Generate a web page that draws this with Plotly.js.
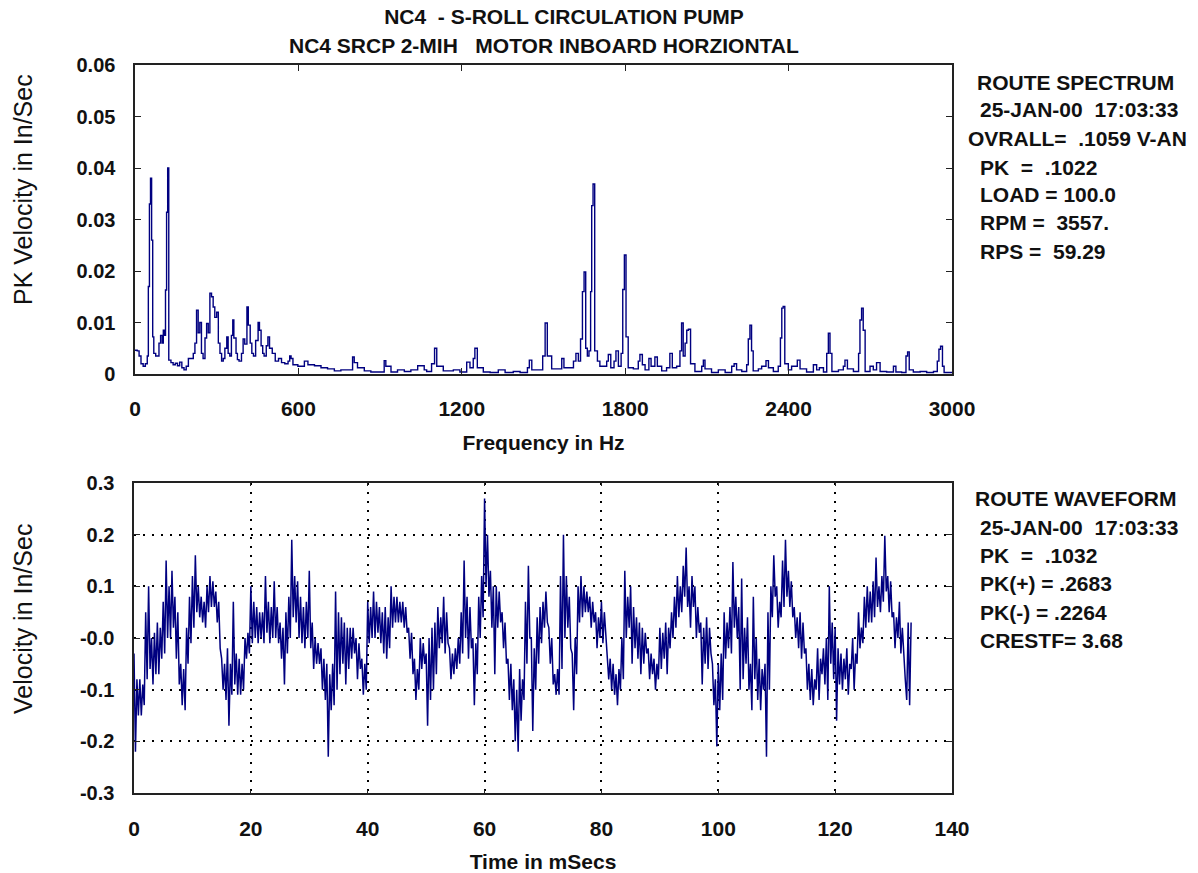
<!DOCTYPE html>
<html>
<head>
<meta charset="utf-8">
<script src="https://cdn.plot.ly/plotly-3.0.1.min.js"></script>
<style>html,body{margin:0;padding:0;background:#fff;}#chart{width:1198px;height:873px;}</style>
</head>
<body>
<div id="chart"></div>
<script>
// ---- Spectrum (top) ----
const freqHz = [0,8,15,22,30,38,45,49,53,57,61,65,69,76,82,88,94,100,104,108,112,116,120,124,132,140,148,156,164,172,180,188,196,
214,220,226,232,238,244,250,257,263,269,275,281,287,293,300,306,312,318,324,330,337,342,348,354,359,363,371,376,382,391,397,403,411,416,423,429,435,443,452,457,463,469,474,482,488,494,504,515,527,538,550,562,568,573,580,598,622,635,659,683,707,732,756,781,799,805,817,842,866,891,915,921,940,964,989,1013,1038,1062,
1071,1089,1100,1108,1132,1169,1193,1218,1230,1242,1248,1257,1279,1304,1334,1359,1389,1414,1441,1448,1457,1481,1497,1506,1514,1530,1548,1567,1575,1597,1610,1619,1628,1636,1643,1649,1655,1661,1667,1673,1677,1682,1688,1698,1707,1717,1732,1738,1747,1759,1766,1775,1785,1791,1797,1803,1811,1830,1848,1854,1863,1873,1887,1895,1909,1918,1934,1952,1964,1973,1989,2001,2007,2013,2020,2026,2032,2040,2056,
2081,2087,2093,2117,2142,2167,2191,2200,2209,2228,2246,2252,2258,2264,2270,2289,2301,2317,2326,2344,2362,2370,2375,2380,2386,2399,2411,2432,2442,2466,2491,2503,2513,2528,2540,2546,2552,2559,2583,2601,2607,2616,2638,2657,2662,2668,2674,2681,2699,2711,2723,2736,2760,2785,2794,2815,2831,2837,2843,2858,2883,2907,2932,2946,2952,2958,2965,2971,3000];
const pkVel = [0.0046,0.0045,0.0035,0.002,0.0015,0.002,0.0035,0.017,0.033,0.038,0.026,0.0072,0.004,0.0035,0.0035,0.006,0.0075,0.006,0.0085,0.0075,0.0163,0.0314,0.040,0.0027,0.0022,0.0018,0.0021,0.0016,0.0023,0.0012,0.0008,0.0015,0.003,
0.004,0.006,0.0124,0.008,0.01,0.004,0.003,0.007,0.0098,0.008,0.0157,0.015,0.013,0.011,0.012,0.006,0.004,0.0025,0.003,0.005,0.0072,0.004,0.0035,0.0075,0.0105,0.007,0.004,0.0028,0.0025,0.004,0.0068,0.0058,0.013,0.0095,0.006,0.004,0.0035,0.0065,0.010,0.0085,0.0055,0.004,0.0035,0.0055,0.0072,0.005,0.004,0.0025,0.003,0.0022,0.002,0.0025,0.0035,0.003,0.0018,0.0015,0.0025,0.0018,0.0016,0.0012,0.001,0.0006,0.0008,0.0008,0.0033,0.0022,0.0012,0.0006,0.0004,0.0004,0.0026,0.0015,0.0004,0.0008,0.0005,0.0008,0.0016,0.0008,
0.0005,0.002,0.005,0.0015,0.0006,0.0008,0.0004,0.0023,0.0012,0.003,0.005,0.0012,0.0004,0.0003,0.0008,0.0003,0.0005,0.0003,0.0012,0.0027,0.0008,0.0008,0.0035,0.0099,0.0035,0.001,0.001,0.003,0.0012,0.0012,0.0025,0.004,0.0025,0.0068,0.016,0.0198,0.005,0.0035,0.0045,0.016,0.0327,0.0369,0.0045,0.0025,0.0015,0.0015,0.0025,0.0038,0.0012,0.0025,0.0045,0.0015,0.004,0.0164,0.0231,0.0072,0.0012,0.001,0.0025,0.0038,0.0018,0.0008,0.003,0.0015,0.0033,0.0015,0.0006,0.0012,0.004,0.0012,0.0015,0.0045,0.0099,0.0035,0.006,0.0085,0.0087,0.002,0.0005,
0.0015,0.0027,0.001,0.0003,0.0008,0.0003,0.0015,0.002,0.0008,0.0005,0.0018,0.0068,0.0095,0.0045,0.0006,0.001,0.0015,0.0026,0.0012,0.0005,0.0015,0.007,0.0128,0.0131,0.002,0.0008,0.0015,0.0027,0.001,0.0004,0.0018,0.0008,0.0012,0.0004,0.004,0.0079,0.004,0.0005,0.0008,0.0015,0.0027,0.001,0.0005,0.004,0.0105,0.0128,0.0085,0.0005,0.0015,0.0008,0.0022,0.0005,0.0004,0.0015,0.0004,0.0003,0.0035,0.0043,0.0008,0.0004,0.0005,0.0003,0.0005,0.0025,0.0048,0.0054,0.0015,0.0003,0.0003];
const freqTicks = [0,600,1200,1800,2400,3000];

// ---- Waveform (bottom), one value every 0.25 ms (upper/lower swing of the trace) ----
const waveStartMs = 0;
const waveStepMs = 0.25;
const waveVel = [
-0.03,-0.22,-0.08,-0.15, -0.08,-0.15,-0.09,-0.13, 0.05,-0.08,0.1,-0.06, 0.0,-0.09,0.01,-0.07, 0.03,-0.07,0.02,-0.04,
0.07,-0.03,0.15,0.0, 0.1,0.0,0.13,0.02, 0.08,-0.04,0.05,-0.09, -0.05,-0.13,-0.06,-0.14, 0.02,-0.05,0.08,-0.01,
0.12,0.02,0.16,0.05, 0.1,0.04,0.08,0.03, 0.07,0.02,0.1,0.05, 0.12,0.06,0.11,0.06, 0.09,0.03,0.07,-0.02,
-0.04,-0.1,-0.05,-0.12, -0.02,-0.17,-0.05,-0.11, 0.07,-0.09,-0.03,-0.11, -0.04,-0.11,-0.05,-0.1, 0.0,-0.04,0.01,-0.03,
0.1,-0.01,0.07,0.0, 0.06,-0.01,0.05,0.0, 0.05,-0.01,0.12,0.01, 0.07,-0.01,0.06,0.0, 0.11,0.0,0.06,-0.01,
0.03,-0.04,0.02,-0.09, 0.05,-0.03,0.08,0.0, 0.19,0.04,0.12,0.03, 0.11,0.0,0.08,-0.01, 0.06,-0.02,0.07,0.0,
0.13,-0.02,0.03,-0.06, 0.0,-0.05,-0.01,-0.05, -0.02,-0.1,-0.04,-0.12, -0.05,-0.23,-0.07,-0.14, -0.05,-0.13,0.09,-0.1,
0.05,-0.07,0.04,-0.05, 0.03,-0.09,0.02,-0.06, 0.02,-0.04,0.02,-0.03, 0.0,-0.08,-0.01,-0.06, -0.04,-0.11,-0.05,-0.1,
0.07,-0.01,0.06,0.0, 0.09,0.0,0.07,0.01, 0.06,-0.01,0.05,-0.03, 0.06,-0.04,0.04,-0.02, 0.1,0.02,0.08,0.03,
0.08,0.03,0.07,0.03, 0.07,0.02,0.06,0.01, 0.02,-0.04,0.01,-0.07, -0.04,-0.12,-0.06,-0.1, 0.0,-0.06,-0.01,-0.05,
-0.03,-0.17,0.0,-0.12, 0.02,-0.1,0.03,-0.07, 0.06,-0.02,0.04,-0.01, 0.08,-0.03,0.05,-0.01, -0.02,-0.08,-0.03,-0.07,
-0.02,-0.06,0.0,-0.05, 0.05,-0.03,0.15,0.0, 0.08,-0.04,0.06,-0.02, 0.0,-0.13,-0.01,-0.07, 0.08,0.0,0.12,0.04,
0.27,0.1,0.2,0.08, 0.13,0.02,0.1,-0.07, 0.1,0.02,0.09,0.03, 0.05,-0.02,0.03,-0.05, -0.04,-0.12,-0.05,-0.14,
-0.08,-0.2,-0.1,-0.22, -0.06,-0.16,-0.08,-0.12, 0.07,-0.05,0.14,0.0, 0.0,-0.18,-0.02,-0.1, 0.04,-0.05,0.06,-0.01,
0.07,0.02,0.09,0.03, 0.02,-0.05,0.0,-0.09, -0.07,-0.11,-0.06,-0.11, 0.12,-0.06,0.2,0.0, 0.12,0.02,0.08,-0.02,
-0.03,-0.14,0.0,-0.07, 0.1,0.03,0.12,0.04, 0.1,0.05,0.09,0.05, 0.08,0.02,0.07,0.03, 0.05,-0.02,0.04,0.0,
0.07,-0.01,0.05,0.0, -0.03,-0.08,-0.04,-0.1, -0.05,-0.11,-0.07,-0.13, -0.06,-0.1,0.0,-0.08, 0.13,0.0,0.08,0.02,
0.1,-0.05,0.06,-0.02, 0.04,-0.04,0.03,-0.07, 0.02,-0.05,0.01,-0.03, -0.02,-0.08,-0.03,-0.07, -0.04,-0.1,-0.05,-0.08,
0.02,-0.06,0.01,-0.04, 0.03,-0.07,0.02,-0.02, 0.05,0.0,0.08,0.02, 0.12,0.04,0.1,0.05, 0.14,0.08,0.175,0.06,
0.1,0.02,0.12,0.06, 0.1,0.0,0.06,0.01, 0.03,-0.09,0.02,-0.05, 0.04,-0.06,0.02,-0.03, -0.05,-0.13,-0.08,-0.21,
-0.05,-0.14,-0.03,-0.12, 0.05,-0.04,0.03,-0.02, 0.06,-0.03,0.147,0.02, 0.08,0.0,0.06,-0.1, 0.115,-0.08,0.02,-0.05,
0.04,-0.1,-0.05,-0.14, 0.08,-0.08,0.0,-0.12, -0.04,-0.14,-0.06,-0.1, -0.05,-0.23,0.05,-0.1, 0.1,0.04,0.16,0.08,
0.1,0.02,0.07,0.04, 0.15,0.06,0.19,0.08, 0.13,0.06,0.11,0.04, 0.06,0.0,0.04,-0.02, 0.05,-0.04,0.03,-0.03,
-0.02,-0.1,-0.05,-0.12, -0.06,-0.13,-0.08,-0.1, -0.02,-0.12,-0.04,-0.07, -0.02,-0.09,0.0,-0.12, 0.1,-0.05,0.03,-0.08,
0.02,-0.16,-0.02,-0.09, -0.03,-0.1,-0.04,-0.08, -0.02,-0.11,-0.05,-0.06, 0.0,-0.1,-0.03,-0.05, 0.05,-0.02,0.02,-0.01,
0.08,0.02,0.1,0.03, 0.09,0.03,0.11,0.04, 0.156,0.06,0.1,0.05, 0.12,0.07,0.198,0.09, 0.12,0.05,0.11,0.04,
0.05,-0.02,0.04,0.0, 0.07,-0.03,0.02,-0.04, -0.08,-0.12,0.03,-0.13, 0.03];
const timeTicks = [0,20,40,60,80,100,120,140];
const velTicks = [-0.3,-0.2,-0.1,0,0.1,0.2,0.3];
const velTickText = ['-0.3','-0.2','-0.1','-0.0','0.1','0.2','0.3'];

// ---- Text blocks ----
const titleLine1 = 'NC4\u00a0\u00a0- S-ROLL CIRCULATION PUMP';
const titleLine2 = 'NC4 SRCP 2-MIH\u00a0\u00a0\u00a0MOTOR INBOARD HORZIONTAL';
const specYTitle = 'PK Velocity in In/Sec';
const waveYTitle = 'Velocity in In/Sec';
const specInfo = ['ROUTE SPECTRUM','25-JAN-00\u00a0\u00a017:03:33','OVRALL=\u00a0\u00a0.1059 V-AN','PK\u00a0\u00a0=\u00a0\u00a0.1022','LOAD = 100.0','RPM =\u00a0\u00a03557.','RPS =\u00a0\u00a059.29'];
const waveInfo = ['ROUTE WAVEFORM','25-JAN-00\u00a0\u00a017:03:33','PK\u00a0\u00a0=\u00a0\u00a0.1032','PK(+) = .2683','PK(-) = .2264','CRESTF= 3.68'];

// ---- geometry helpers (pixels -> paper) ----
const W = 1198, H = 873;
const px = v => v / W;
const py = v => 1 - v / H;

const FONT = 'Liberation Sans, Arial, sans-serif';
const ink = '#111';
const lineCol = '#000080';

const traces = [
  {x: freqHz, y: pkVel, type: 'scatter', mode: 'lines', line: {color: lineCol, width: 1.4, shape: 'hv'}, xaxis: 'x', yaxis: 'y'},
  {x0: waveStartMs, dx: waveStepMs, y: waveVel, type: 'scatter', mode: 'lines', line: {color: lineCol, width: 1.5}, xaxis: 'x2', yaxis: 'y2'}
];

const bold21 = {family: FONT, size: 21, weight: 'bold', color: ink};
const annotations = [];
annotations.push({text: titleLine2, xref: 'paper', yref: 'paper', x: px(544), y: py(45), xanchor: 'center', yanchor: 'middle', showarrow: false, font: bold21});
annotations.push({text: specYTitle, xref: 'paper', yref: 'paper', x: px(23), y: py(190), xanchor: 'center', yanchor: 'middle', textangle: -90, showarrow: false, font: {family: FONT, size: 25, color: ink}});
annotations.push({text: waveYTitle, xref: 'paper', yref: 'paper', x: px(23), y: py(619), xanchor: 'center', yanchor: 'middle', textangle: -90, showarrow: false, font: {family: FONT, size: 25, color: ink}});
specInfo.forEach((t, i) => {
  const ys = [82,109,138,167,195,223,252];
  const xs = [975,978,966,978,978,978,978];
  annotations.push({text: t, xref: 'paper', yref: 'paper', x: px(xs[i]), y: py(ys[i]), xanchor: 'left', yanchor: 'middle', showarrow: false, font: bold21});
});
waveInfo.forEach((t, i) => {
  const ys = [498,527,555,583,612,640];
  const xs = [973,978,978,978,978,978];
  annotations.push({text: t, xref: 'paper', yref: 'paper', x: px(xs[i]), y: py(ys[i]), xanchor: 'left', yanchor: 'middle', showarrow: false, font: bold21});
});

const axisCommon = {showline: true, linecolor: '#222', linewidth: 1.6, mirror: 'ticks', zeroline: false, tickcolor: '#222', automargin: false};
const tickBold = {family: FONT, size: 20, weight: 'bold', color: ink};
const xTickBold = {family: FONT, size: 21, weight: 'bold', color: ink};

const layout = {
  width: W, height: H,
  margin: {l: 0, r: 0, t: 0, b: 0},
  paper_bgcolor: '#fff', plot_bgcolor: '#fff',
  showlegend: false,
  title: {text: titleLine1, xref: 'paper', yref: 'paper', x: px(564), y: py(17), xanchor: 'center', yanchor: 'middle', font: bold21},
  xaxis: Object.assign({}, axisCommon, {
    domain: [px(135), px(952)], range: [0, 3000], anchor: 'y',
    tickvals: freqTicks, ticks: 'inside', ticklen: 6, showgrid: false,
    ticklabelstandoff: 15,
    tickfont: xTickBold,
    title: {text: 'Frequency in Hz', standoff: 16, font: xTickBold}
  }),
  yaxis: Object.assign({}, axisCommon, {
    domain: [py(374), py(65)], range: [0, 0.06], anchor: 'x',
    dtick: 0.01, tick0: 0, ticks: 'inside', ticklen: 6, showgrid: false,
    ticklabelstandoff: 14,
    tickfont: tickBold
  }),
  xaxis2: Object.assign({}, axisCommon, {
    domain: [px(134), px(952)], range: [0, 140], anchor: 'y2',
    tickvals: timeTicks, ticks: 'inside', ticklen: 3,
    showgrid: true, gridcolor: '#000', gridwidth: 2, griddash: '2px,7px',
    ticklabelstandoff: 16,
    tickfont: xTickBold,
    title: {text: 'Time in mSecs', standoff: 15, font: xTickBold}
  }),
  yaxis2: Object.assign({}, axisCommon, {
    domain: [py(793), py(483)], range: [-0.3, 0.3], anchor: 'x2',
    tickvals: velTicks, ticktext: velTickText, ticks: 'inside', ticklen: 6,
    showgrid: true, gridcolor: '#000', gridwidth: 2, griddash: '2px,7px',
    ticklabelstandoff: 14,
    tickfont: tickBold
  }),
  annotations: annotations
};

Plotly.newPlot('chart', traces, layout, {displayModeBar: false, staticPlot: true});
</script>
</body>
</html>
